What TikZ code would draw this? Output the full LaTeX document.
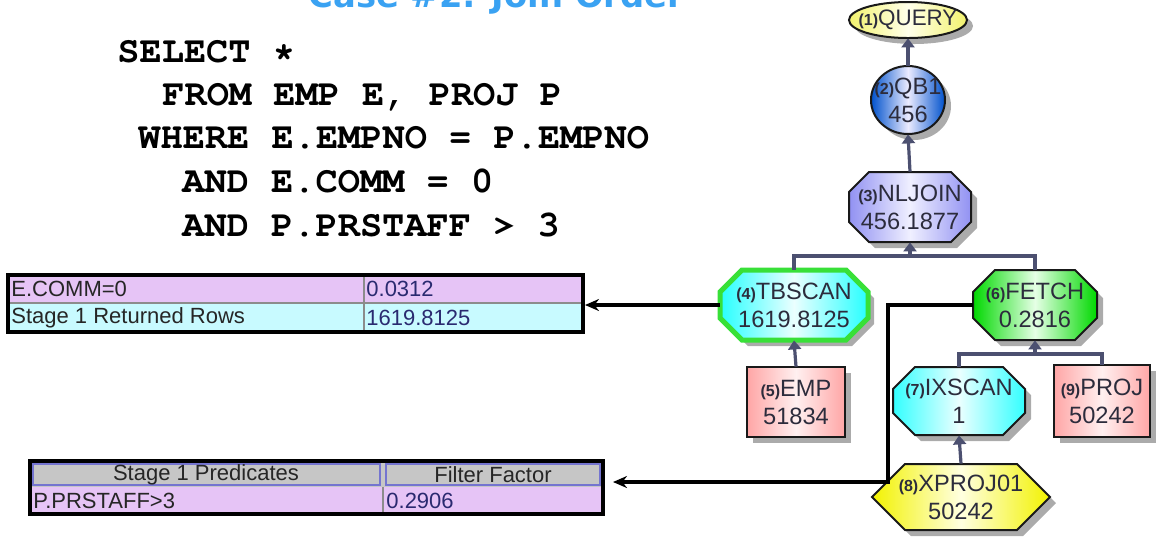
\documentclass[tikz,border=0pt]{standalone}
\usepackage[T1,TU]{fontenc}
\usepackage{fontspec}
\setmainfont{Liberation Sans}
\newfontfamily\headfont{DejaVu Sans}
\usetikzlibrary{arrows.meta}

\definecolor{titleblue}{HTML}{3AA2F2}
\definecolor{linkgray}{HTML}{4C5070}
\definecolor{nodeink}{HTML}{2C2C3C}
\definecolor{rowlav}{HTML}{E6C4F6}
\definecolor{rowcyan}{HTML}{C8FAFF}
\definecolor{headgray}{HTML}{C6C6C6}
\definecolor{headedge}{HTML}{7474D0}
\definecolor{valink}{HTML}{2A2A70}
\definecolor{scangreen}{HTML}{38E038}

% SQL text in a bold Courier
\newcommand\sqlfont{\fontencoding{T1}\fontfamily{pcr}\fontseries{b}\fontshape{n}\fontsize{18.5}{22}\selectfont}
% operator number in front of an operator name
\newcommand\nr[1]{{\fontsize{8}{8}\selectfont\bfseries(#1)}}

% outline shapes of the plan graph: style, centre x, centre y, half width, half height, corner cut
\newcommand\planocto[6]{\path[#1] ({#2-#4+#6},{#3-#5}) -- ({#2+#4-#6},{#3-#5}) -- ({#2+#4},{#3-#5+#6})
  -- ({#2+#4},{#3+#5-#6}) -- ({#2+#4-#6},{#3+#5}) -- ({#2-#4+#6},{#3+#5})
  -- ({#2-#4},{#3+#5-#6}) -- ({#2-#4},{#3-#5+#6}) -- cycle;}
\newcommand\planhexa[6]{\path[#1] ({#2-#4+#6},{#3-#5}) -- ({#2+#4-#6},{#3-#5}) -- ({#2+#4},{#3})
  -- ({#2+#4-#6},{#3+#5}) -- ({#2-#4+#6},{#3+#5}) -- ({#2-#4},{#3}) -- cycle;}
\newcommand\planoval[5]{\path[#1] (#2,#3) ellipse [x radius=#4, y radius=#5];}
\newcommand\planbox[5]{\path[#1] ({#2-#4},{#3-#5}) rectangle ({#2+#4},{#3+#5});}

\begin{document}
\begin{tikzpicture}[x=0.5pt,y=-0.5pt,
  dropfill/.style={fill=black!55, opacity=.6},
  edge/.style={draw=black!90, line width=1pt},
  fquery/.style={edge, left color=yellow!55!white!95!black, right color=yellow!55!white!95!black, middle color=yellow!8},
  fqb/.style={edge, left color=blue!60!cyan!80!black, right color=blue!60!cyan!80!black, middle color=blue!8},
  fnl/.style={edge, left color=blue!40!white!95!black, right color=blue!40!white!95!black, middle color=blue!6},
  ftb/.style={draw=scangreen, line width=2.5pt, left color=cyan!85, right color=cyan!85, middle color=cyan!8},
  ffe/.style={edge, left color=green!85!black, right color=green!85!black, middle color=green!10},
  frel/.style={edge, left color=red!35, right color=red!35, middle color=red!6},
  fix/.style={edge, left color=cyan!80, right color=cyan!80, middle color=cyan!8},
  fxp/.style={edge, left color=yellow!95!black, right color=yellow!95!black, middle color=yellow!12},
  lbl/.style={inner sep=0pt, align=center, text=nodeink, font=\fontsize{11.8}{14}\selectfont},
  link/.style={draw=linkgray, line width=1.6pt},
  linkarrow/.style={link, -{Triangle[width=6.5pt,length=4.5pt]}},
  callout/.style={draw=black, line width=1.7pt, -{Stealth[length=7pt,width=6pt]}},
  sql/.style={anchor=base west, inner sep=0pt, font=\sqlfont},
  cell/.style={inner sep=0pt, text=black!85, font=\fontsize{11}{13}\selectfont},
  tabframe/.style={draw=black, line width=2pt, inner sep=0pt}]

\useasboundingbox (0,0) rectangle (1173,538);

% heading, cut by the top edge
\node[anchor=base west, inner sep=0pt, text=titleblue,
  font=\headfont\bfseries\fontsize{16.9}{18}\selectfont] (title) at (308,7) {Case \#2: Join Order};

% the query
\node[sql] (sql1) at (117,62)  {SELECT *};
\node[sql] (sql2) at (162,105) {FROM EMP E, PROJ P};
\node[sql] (sql3) at (138,148) {WHERE E.EMPNO = P.EMPNO};
\node[sql] (sql4) at (182,192) {AND E.COMM = 0};
\node[sql] (sql5) at (182,236) {AND P.PRSTAFF > 3};

% access plan
\planoval{dropfill}{914}{26}{59}{18}
\planoval{fquery}{908}{20}{59}{18}
\node[lbl, font=\fontsize{11.2}{14}\selectfont, minimum width=59pt, minimum height=18pt] (qu) at (908,20) {\nr{1}QUERY};

\planoval{dropfill}{914}{106}{37}{34}
\planoval{fqb}{908}{100}{37}{34}
\node[lbl, minimum width=37pt, minimum height=34pt] (qb) at (908,100) {\nr{2}QB1\\456};

\planocto{dropfill}{916}{213}{61}{35}{20}
\planocto{fnl}{910}{207}{61}{35}{20}
\node[lbl, minimum width=61pt, minimum height=35pt] (nl) at (910,207) {\nr{3}NLJOIN\\456.1877};

\planocto{dropfill}{800}{311}{74}{35}{22}
\planocto{ftb}{794}{305}{74}{35}{22}
\node[lbl, minimum width=74pt, minimum height=35pt] (tb) at (794,305) {\nr{4}TBSCAN\\1619.8125};

\planocto{dropfill}{1041}{311}{62}{35}{22}
\planocto{ffe}{1035}{305}{62}{35}{22}
\node[lbl, minimum width=62pt, minimum height=35pt] (fe) at (1035,305) {\nr{6}FETCH\\0.2816};

\planbox{dropfill}{802}{408}{49}{35}
\planbox{frel}{796}{402}{49}{35}
\node[lbl, minimum width=49pt, minimum height=35pt] (em) at (796,402) {\nr{5}EMP\\51834};

\planocto{dropfill}{965}{407}{66}{34}{22}
\planocto{fix}{959}{401}{66}{34}{22}
\node[lbl, minimum width=66pt, minimum height=34pt] (ix) at (959,401) {\nr{7}IXSCAN\\1};

\planbox{dropfill}{1108}{407}{48}{36}
\planbox{frel}{1102}{401}{48}{36}
\node[lbl, minimum width=48pt, minimum height=36pt] (pj) at (1102,401) {\nr{9}PROJ\\50242};

\planhexa{dropfill}{967}{503}{89}{33}{33}
\planhexa{fxp}{961}{497}{89}{33}{33}
\node[lbl, minimum width=89pt, minimum height=33pt] (xp) at (961,497) {\nr{8}XPROJ01\\50242};

% plan edges
\coordinate (bar1) at (0,256);
\coordinate (bar2) at (0,354);
\draw[linkarrow] (qb.north) -- (qu.south);
\draw[linkarrow] (nl.north) -- (qb.south);
\draw[link] (tb.north) -- (tb.north |- bar1) -- (fe.north |- bar1) -- (fe.north);
\draw[linkarrow] (nl.south |- bar1) -- (nl.south);
\draw[linkarrow] (em.north) -- (tb.south);
\draw[link] (ix.north) -- (ix.north |- bar2) -- (pj.north |- bar2) -- (pj.north);
\draw[linkarrow] (fe.south |- bar2) -- (fe.south);
\draw[linkarrow] (xp.north) -- (ix.south);

% table of the TBSCAN stage
\fill[rowlav] (8,275) rectangle (583,303);
\fill[rowcyan] (8,303) rectangle (583,332);
\draw[black!45, line width=0.6pt] (8,303) -- (583,303) (364,275) -- (364,332);
\node[tabframe, minimum width=287.5pt, minimum height=28.5pt] (tab1) at (295.5,303.5) {};
\node[cell, anchor=west] (t1a) at (11,289) {E.COMM=0};
\node[cell, anchor=west, text=valink] (t1b) at (366,289) {0.0312};
\node[cell, anchor=west] (t1c) at (11,318) {Stage 1 Returned Rows};
\node[cell, anchor=west, text=valink] (t1d) at (366,318) {1619.8125};

% table of the FETCH stage
\fill[headgray] (30,461) rectangle (603,487);
\draw[headedge, line width=0.8pt] (33,464) rectangle (380,485) (386,464) rectangle (600,485);
\fill[rowlav] (30,487) rectangle (603,514);
\draw[black!45, line width=0.6pt] (383,487) -- (383,514);
\node[tabframe, minimum width=286.5pt, minimum height=26.5pt] (tab2) at (316.5,487.5) {};
\node[cell] (t2a) at (206,475) {Stage 1 Predicates};
\node[cell] (t2b) at (493,475) {Filter Factor};
\node[cell, anchor=west] (t2c) at (33,501) {P.PRSTAFF>3};
\node[cell, anchor=west, text=valink] (t2d) at (386,501) {0.2906};

% call-outs from the plan to the tables
\coordinate (elbow) at (888,482);
\draw[callout] (tb.west) -- (tb.west -| tab1.east);
\draw[callout, shorten >=4pt] (fe.west) -| (elbow) -- (elbow -| tab2.east);
\end{tikzpicture}
\end{document}
